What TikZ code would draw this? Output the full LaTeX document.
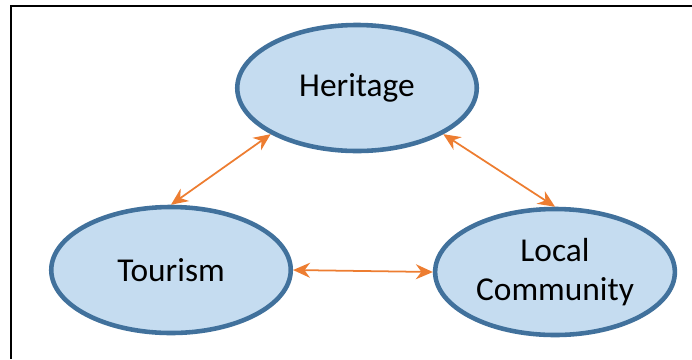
\documentclass[tikz,border=0pt]{standalone}
\usepackage{fontspec}
\setmainfont{Carlito}
\usetikzlibrary{arrows.meta,shapes.geometric}
\definecolor{bubblefill}{RGB}{197,220,240}
\definecolor{bubbleline}{RGB}{65,113,156}
\definecolor{linkorange}{RGB}{237,125,49}
\begin{document}
\begin{tikzpicture}[
   bubble/.style={ellipse, draw=bubbleline, fill=bubblefill, line width=2.6pt, minimum width=4.79cm, minimum height=2.52cm, align=center, font=\fontsize{19}{22.5}\selectfont},
   link/.style={{Stealth[length=0.34cm,width=0.3cm]}-{Stealth[length=0.34cm,width=0.3cm]}, draw=linkorange, line width=1pt}]
   \useasboundingbox (0,0) rectangle (13.84,-7.18);
   \draw[line width=1.6pt] (13.84,-0.12) -- (0.22,-0.12) -- (0.22,-7.18);
   \node[bubble] (heritage) at (7.14,-1.76) {Heritage};
   \node[bubble] (tourism) at (3.42,-5.40) {Tourism};
   \node[bubble] (local) at (11.10,-5.44) {Local\\Community};
   \draw[link] (heritage.south west) -- (tourism.north);
   \draw[link] (heritage.south east) -- (local.north);
   \draw[link] (tourism.east) -- (local.west);
  \end{tikzpicture}
\end{document}
